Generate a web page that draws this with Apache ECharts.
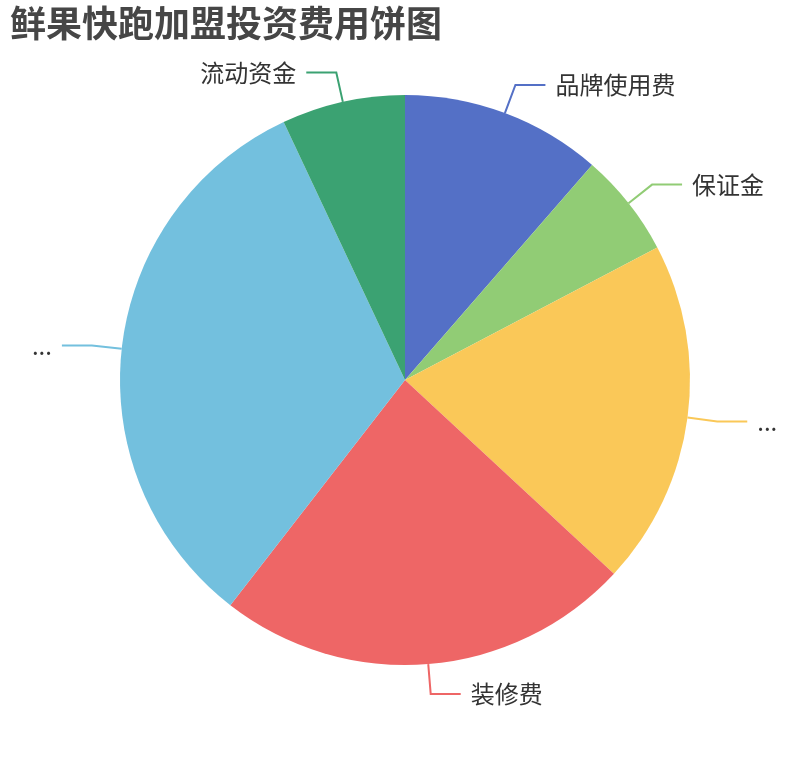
<!DOCTYPE html>
<html>
<head>
<meta charset="utf-8">
<script src="https://cdn.jsdelivr.net/npm/echarts@6/dist/echarts.min.js"></script>
<style>
html,body{margin:0;padding:0;background:#fff;}
#main{width:810px;height:760px;}
</style>
</head>
<body>
<div id="main"></div>
<script>
var titleText = '鲜果快跑加盟投资费用饼图';
var categories = ['品牌使用费', '保证金', '设备购置及首批进货费用', '装修费', '店面租金及物业水电费用', '流动资金'];
var values = [11.4, 5.9, 19.6, 23.6, 32.5, 7.0];
var colors = ['#5470c6', '#91cc75', '#fac858', '#ee6666', '#73c0de', '#3ba272'];

var chart = echarts.init(document.getElementById('main'));
chart.setOption({
  color: colors,
  title: {
    text: titleText,
    left: 0,
    top: -5,
    padding: 10,
    textStyle: {
      fontSize: 36,
      fontWeight: 'bold',
      color: '#464646',
      fontFamily: 'Noto Sans CJK SC'
    }
  },
  series: [{
    type: 'pie',
    radius: '75%',
    center: ['50%', '50%'],
    startAngle: 90,
    clockwise: true,
    itemStyle: { borderWidth: 0 },
    label: {
      show: true,
      fontSize: 24,
      color: '#333',
      fontFamily: 'Noto Sans CJK SC',
      distanceToLabelLine: 10,
      bleedMargin: 20
    },
    labelLine: {
      show: true,
      length: 30,
      length2: 30,
      lineStyle: { width: 2 }
    },
    data: categories.map(function (c, i) { return { name: c, value: values[i] }; })
  }]
});
</script>
</body>
</html>
